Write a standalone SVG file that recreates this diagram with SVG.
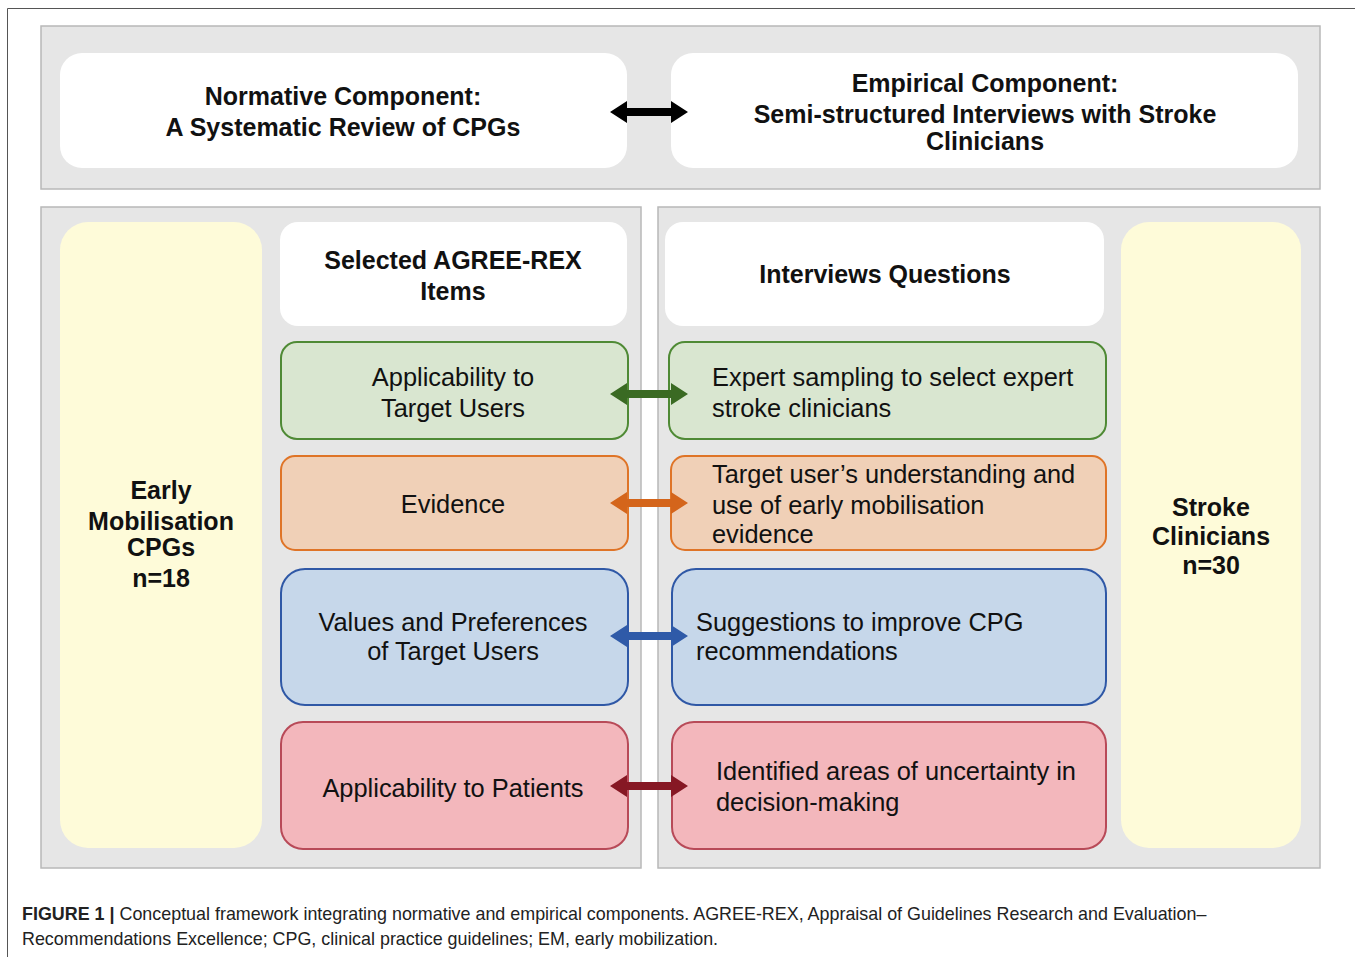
<svg xmlns="http://www.w3.org/2000/svg" width="1355" height="957" viewBox="0 0 1355 957">
<style>
  .panel{fill:#e6e6e6;stroke:#b8b8b8;stroke-width:1.5}
  .white{fill:#ffffff}
  .yellow{fill:#fefbd9}
  .green{fill:#d9e6d0;stroke:#4f8a35;stroke-width:2}
  .orange{fill:#f0d0b7;stroke:#df7427;stroke-width:2}
  .blue{fill:#c6d7ea;stroke:#2f58a6;stroke-width:2}
  .red{fill:#f3b7bc;stroke:#b84a58;stroke-width:2}
  text{font-family:"Liberation Sans",Arial,Helvetica,sans-serif;fill:#111}
  .b{font-weight:bold;font-size:25px}
  .r{font-size:25.4px}
  .c{text-anchor:middle}
  .cap{font-size:17.9px;fill:#222}
</style>
<rect x="0" y="0" width="1355" height="957" fill="#ffffff"/>
<path d="M7.5,957 V8.5 H1355" fill="none" stroke="#555" stroke-width="1"/>

<g id="top-panel">
  <rect class="panel" x="41" y="26" width="1279" height="163"/>
</g>
<g id="normative">
  <rect class="white" x="60" y="53" width="567" height="115" rx="22"/>
  <text class="b c" x="343" y="105">Normative Component:</text>
  <text class="b c" x="343" y="136">A Systematic Review of CPGs</text>
</g>
<g id="empirical">
  <rect class="white" x="671" y="53" width="627" height="115" rx="22"/>
  <text class="b c" x="985" y="92">Empirical Component:</text>
  <text class="b c" x="985" y="123">Semi-structured Interviews with Stroke</text>
  <text class="b c" x="985" y="150">Clinicians</text>
</g>

<g id="left-panel">
  <rect class="panel" x="41" y="207" width="600" height="661"/>
</g>
<g id="right-panel">
  <rect class="panel" x="658" y="207" width="662" height="661"/>
</g>

<g id="early-cpgs">
  <rect class="yellow" x="60" y="222" width="202" height="626" rx="28"/>
  <text class="b c" x="161" y="499">Early</text>
  <text class="b c" x="161" y="530">Mobilisation</text>
  <text class="b c" x="161" y="556">CPGs</text>
  <text class="b c" x="161" y="587">n=18</text>
</g>
<g id="stroke-clinicians">
  <rect class="yellow" x="1121" y="222" width="180" height="626" rx="28"/>
  <text class="b c" x="1211" y="516">Stroke</text>
  <text class="b c" x="1211" y="545">Clinicians</text>
  <text class="b c" x="1211" y="574">n=30</text>
</g>

<g id="agree-header">
  <rect class="white" x="280" y="222" width="347" height="104" rx="18"/>
  <text class="b c" x="453" y="269">Selected AGREE-REX</text>
  <text class="b c" x="453" y="300">Items</text>
</g>
<g id="interview-header">
  <rect class="white" x="665" y="222" width="439" height="104" rx="18"/>
  <text class="b c" x="885" y="283">Interviews Questions</text>
</g>

<g id="applicability-users">
  <rect class="green" x="281" y="342" width="347" height="97" rx="16"/>
  <text class="r c" x="453" y="386">Applicability to</text>
  <text class="r c" x="453" y="417">Target Users</text>
</g>
<g id="expert-sampling">
  <rect class="green" x="669" y="342" width="437" height="97" rx="16"/>
  <text class="r" x="712" y="386">Expert sampling to select expert</text>
  <text class="r" x="712" y="417">stroke clinicians</text>
</g>

<g id="evidence">
  <rect class="orange" x="281" y="456" width="347" height="94" rx="14"/>
  <text class="r c" x="453" y="513">Evidence</text>
</g>
<g id="understanding">
  <rect class="orange" x="671" y="456" width="435" height="94" rx="14"/>
  <text class="r" x="712" y="483">Target user’s understanding and</text>
  <text class="r" x="712" y="514">use of early mobilisation</text>
  <text class="r" x="712" y="543">evidence</text>
</g>

<g id="values">
  <rect class="blue" x="281" y="569" width="347" height="136" rx="24"/>
  <text class="r c" x="453" y="631">Values and Preferences</text>
  <text class="r c" x="453" y="660">of Target Users</text>
</g>
<g id="suggestions">
  <rect class="blue" x="672" y="569" width="434" height="136" rx="24"/>
  <text class="r" x="696" y="631">Suggestions to improve CPG</text>
  <text class="r" x="696" y="660">recommendations</text>
</g>

<g id="applicability-patients">
  <rect class="red" x="281" y="722" width="347" height="127" rx="22"/>
  <text class="r c" x="453" y="797">Applicability to Patients</text>
</g>
<g id="uncertainty">
  <rect class="red" x="672" y="722" width="434" height="127" rx="22"/>
  <text class="r" x="716" y="780">Identified areas of uncertainty in</text>
  <text class="r" x="716" y="811">decision-making</text>
</g>

<g id="connectors">
  <path d="M610,112 L627,101 L627,108 L671,108 L671,101 L688,112 L671,123 L671,116 L627,116 L627,123 Z" fill="#000"/>
  <path d="M610,394 L627,383 L627,390 L671,390 L671,383 L688,394 L671,405 L671,398 L627,398 L627,405 Z" fill="#3a6a23"/>
  <path d="M610,503 L627,492 L627,499 L671,499 L671,492 L688,503 L671,514 L671,507 L627,507 L627,514 Z" fill="#d4651b"/>
  <path d="M610,636 L627,625 L627,632 L671,632 L671,625 L688,636 L671,647 L671,640 L627,640 L627,647 Z" fill="#2f5aa8"/>
  <path d="M610,786 L627,775 L627,782 L671,782 L671,775 L688,786 L671,797 L671,790 L627,790 L627,797 Z" fill="#861824"/>
</g>

<g id="caption">
  <text class="cap" x="22" y="920"><tspan font-weight="bold">FIGURE 1 |</tspan> Conceptual framework integrating normative and empirical components. AGREE-REX, Appraisal of Guidelines Research and Evaluation–</text>
  <text class="cap" x="22" y="945">Recommendations Excellence; CPG, clinical practice guidelines; EM, early mobilization.</text>
</g>
</svg>
